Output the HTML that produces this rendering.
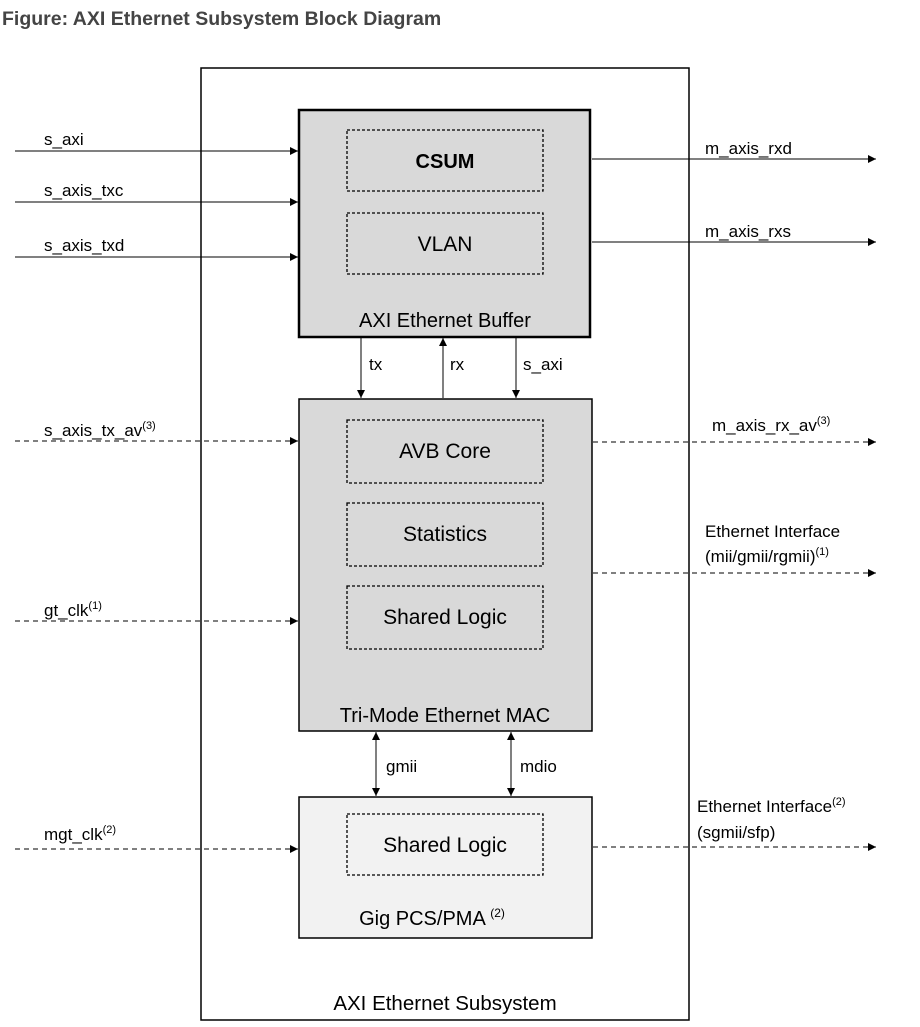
<!DOCTYPE html>
<html><head><style>body{margin:0;background:#fff}svg{display:block}</style></head><body>
<svg width="920" height="1027" viewBox="0 0 920 1027" xmlns="http://www.w3.org/2000/svg" font-family="Liberation Sans, Arial, sans-serif">
<defs><marker id="a" viewBox="0 0 10 10" refX="10" refY="5" markerWidth="11" markerHeight="8" markerUnits="userSpaceOnUse" orient="auto-start-reverse"><path d="M0,0 L10,5 L0,10 z" fill="#000"/></marker></defs>
<text x="2" y="25" font-size="19.5" font-weight="bold" fill="#444">Figure: AXI Ethernet Subsystem Block Diagram</text>
<rect x="201" y="68" width="488" height="952" fill="none" stroke="#000" stroke-width="1.5"/>
<rect x="299" y="110" width="291" height="227" fill="#d9d9d9" stroke="#000" stroke-width="2.5"/>
<rect x="299" y="399" width="293" height="332" fill="#d9d9d9" stroke="#000" stroke-width="1.5"/>
<rect x="299" y="797" width="293" height="141" fill="#f2f2f2" stroke="#000" stroke-width="1.5"/>
<g fill="none" stroke="#000" stroke-width="1.3" stroke-dasharray="3,2">
<rect x="347" y="130" width="196" height="61"/><rect x="347" y="213" width="196" height="61"/>
<rect x="347" y="420" width="196" height="63"/><rect x="347" y="503" width="196" height="63"/><rect x="347" y="586" width="196" height="63"/>
<rect x="347" y="814" width="196" height="61"/></g>
<g font-size="21" text-anchor="middle" fill="#000">
<text x="445" y="168" font-weight="bold" font-size="20">CSUM</text><text x="445" y="251">VLAN</text>
<text x="445" y="327" font-size="20">AXI Ethernet Buffer</text>
<text x="445" y="458">AVB Core</text><text x="445" y="541">Statistics</text><text x="445" y="624">Shared Logic</text>
<text x="445" y="722" font-size="20">Tri-Mode Ethernet MAC</text>
<text x="445" y="852">Shared Logic</text>
<text x="432" y="925" font-size="20">Gig PCS/PMA <tspan font-size="12" dy="-8">(2)</tspan></text>
<text x="445" y="1010" font-size="20.5">AXI Ethernet Subsystem</text></g>
<g stroke="#000" stroke-width="1" fill="none">
<line x1="15" y1="151" x2="298" y2="151" marker-end="url(#a)"/>
<line x1="15" y1="202" x2="298" y2="202" marker-end="url(#a)"/>
<line x1="15" y1="257" x2="298" y2="257" marker-end="url(#a)"/>
<line x1="592" y1="159" x2="876" y2="159" marker-end="url(#a)"/>
<line x1="592" y1="242" x2="876" y2="242" marker-end="url(#a)"/>
<line x1="361" y1="338" x2="361" y2="398" marker-end="url(#a)"/>
<line x1="443" y1="398" x2="443" y2="338" marker-end="url(#a)"/>
<line x1="516" y1="338" x2="516" y2="398" marker-end="url(#a)"/>
<line x1="376" y1="732" x2="376" y2="796" marker-start="url(#a)" marker-end="url(#a)"/>
<line x1="511" y1="732" x2="511" y2="796" marker-start="url(#a)" marker-end="url(#a)"/>
<g stroke-dasharray="5,4">
<line x1="15" y1="441" x2="298" y2="441" marker-end="url(#a)"/>
<line x1="15" y1="621" x2="298" y2="621" marker-end="url(#a)"/>
<line x1="15" y1="849" x2="298" y2="849" marker-end="url(#a)"/>
<line x1="593" y1="442" x2="876" y2="442" marker-end="url(#a)"/>
<line x1="593" y1="573" x2="876" y2="573" marker-end="url(#a)"/>
<line x1="593" y1="847" x2="876" y2="847" marker-end="url(#a)"/>
</g></g>
<g font-size="17" fill="#000">
<text x="44" y="145">s_axi</text><text x="44" y="196">s_axis_txc</text><text x="44" y="251">s_axis_txd</text>
<text x="44" y="436">s_axis_tx_av<tspan font-size="11" dy="-7">(3)</tspan></text>
<text x="44" y="616">gt_clk<tspan font-size="11" dy="-7">(1)</tspan></text>
<text x="44" y="840">mgt_clk<tspan font-size="11" dy="-7">(2)</tspan></text>
<text x="705" y="154">m_axis_rxd</text><text x="705" y="237">m_axis_rxs</text>
<text x="712" y="431">m_axis_rx_av<tspan font-size="11" dy="-7">(3)</tspan></text>
<text x="705" y="537">Ethernet Interface</text>
<text x="705" y="562">(mii/gmii/rgmii)<tspan font-size="11" dy="-7">(1)</tspan></text>
<text x="697" y="812">Ethernet Interface<tspan font-size="11" dy="-7">(2)</tspan></text>
<text x="697" y="838">(sgmii/sfp)</text>
<text x="369" y="370">tx</text><text x="450" y="370">rx</text><text x="523" y="370">s_axi</text>
<text x="386" y="772">gmii</text><text x="520" y="772">mdio</text>
</g>
</svg>
</body></html>
